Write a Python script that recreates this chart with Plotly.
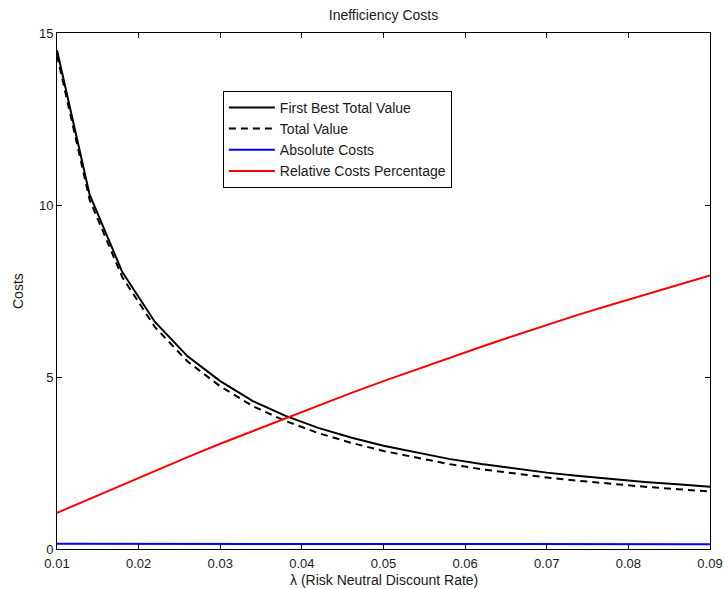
import plotly.graph_objects as go

lam = [0.010, 0.014, 0.018, 0.022, 0.026, 0.030, 0.034, 0.038, 0.042, 0.046, 0.050,
       0.054, 0.058, 0.062, 0.066, 0.070, 0.074, 0.078, 0.082, 0.086, 0.090]
first_best = [14.5, 10.3, 8.05, 6.6, 5.6, 4.88, 4.3, 3.87, 3.52, 3.24, 3.0,
              2.8, 2.62, 2.47, 2.34, 2.22, 2.12, 2.03, 1.95, 1.88, 1.81]
total_value = [14.35, 10.15, 7.90, 6.45, 5.45, 4.73, 4.15, 3.72, 3.37, 3.09, 2.85,
               2.65, 2.47, 2.32, 2.19, 2.08, 1.98, 1.89, 1.81, 1.74, 1.67]
absolute_costs = [0.15, 0.15, 0.15, 0.15, 0.15, 0.15, 0.15, 0.15, 0.15, 0.15, 0.15,
                  0.15, 0.15, 0.15, 0.15, 0.14, 0.14, 0.14, 0.14, 0.14, 0.14]
relative_pct = [1.05, 1.46, 1.87, 2.27, 2.67, 3.06, 3.43, 3.80, 4.17, 4.53, 4.88,
                5.22, 5.55, 5.88, 6.20, 6.52, 6.82, 7.11, 7.39, 7.67, 7.95]

x_ticks = [0.01, 0.02, 0.03, 0.04, 0.05, 0.06, 0.07, 0.08, 0.09]
y_ticks = [0, 5, 10, 15]

font = "Liberation Sans, Arial, sans-serif"
fs = 14
tfs = 13

fig = go.Figure()
fig.add_trace(go.Scatter(x=lam, y=first_best, mode="lines", name="First Best Total Value",
                         line=dict(color="black", width=2)))
fig.add_trace(go.Scatter(x=lam, y=total_value, mode="lines", name="Total Value",
                         line=dict(color="black", width=2, dash="7px,5px")))
fig.add_trace(go.Scatter(x=lam, y=absolute_costs, mode="lines", name="Absolute Costs",
                         line=dict(color="#0000ff", width=2)))
fig.add_trace(go.Scatter(x=lam, y=relative_pct, mode="lines", name="Relative Costs Percentage",
                         line=dict(color="#ff0000", width=2)))

axis_common = dict(showline=True, linecolor="black", linewidth=1, mirror="ticks",
                   ticks="inside", ticklen=5, tickcolor="black", showgrid=False,
                   zeroline=False, automargin=False,
                   tickfont=dict(family=font, size=tfs, color="#1a1a1a"))

fig.update_layout(
    width=724, height=589,
    margin=dict(l=57, r=14, t=33, b=40),
    paper_bgcolor="white", plot_bgcolor="white",
    font=dict(family=font, size=fs, color="black"),
    title=dict(text="Inefficiency Costs", x=(57 + 710) / 2 / 724, xanchor="center",
               y=1 - 15 / 589, yanchor="middle", font=dict(family=font, size=fs, color="#1a1a1a")),
    xaxis=dict(range=[0.01, 0.09], tickvals=x_ticks, ticktext=[f"{v:.2f}" for v in x_ticks],
               ticklabelstandoff=2, **axis_common),
    yaxis=dict(range=[0, 15], tickvals=y_ticks, **axis_common),
    legend=dict(x=0.254, y=0.888, xanchor="left", yanchor="top",
                bgcolor="white", bordercolor="black", borderwidth=1, itemwidth=46,
                font=dict(family=font, size=14, color="#1a1a1a"), tracegroupgap=0),
    showlegend=True,
    annotations=[
        dict(text="λ (Risk Neutral Discount Rate)", xref="paper", yref="paper",
             x=0.5, y=-31 / 516, xanchor="center", yanchor="middle", showarrow=False,
             font=dict(family=font, size=fs, color="#1a1a1a")),
        dict(text="Costs", xref="paper", yref="paper", x=-(57 - 18) / 653, y=0.5,
             xanchor="center", yanchor="middle", textangle=-90, showarrow=False,
             font=dict(family=font, size=fs, color="#1a1a1a")),
    ],
)

fig.write_html("out.html", config={"displayModeBar": False},
               post_script="document.body.style.margin='0';document.body.style.overflow='hidden';")
